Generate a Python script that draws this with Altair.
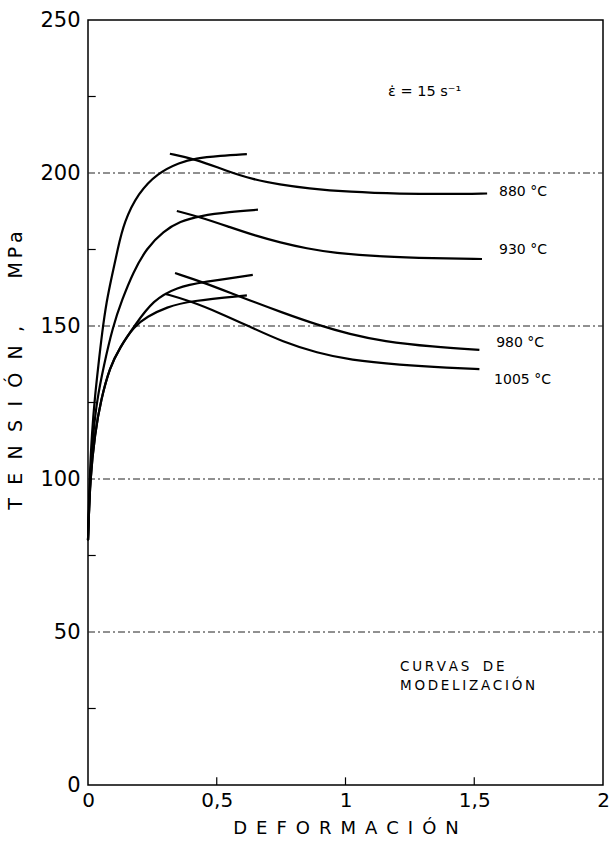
import altair as alt
import pandas as pd

# ---- data ----
r880_x = [0, 0.006, 0.015, 0.027, 0.040, 0.055, 0.072, 0.092, 0.115, 0.140, 0.195, 0.270, 0.357, 0.416, 0.513, 0.617]
r880_y = [80, 100, 115, 127, 137, 148, 158, 166, 175, 184, 193.5, 200, 203.5, 204.8, 205.6, 206.2]
s880_x = [0.318, 0.416, 0.540, 0.640, 0.746, 0.850, 1.017, 1.210, 1.406, 1.550]
s880_y = [206.3, 204.6, 200.6, 197.9, 196.2, 195.0, 193.8, 193.2, 193.1, 193.3]

r930_x = [0, 0.008, 0.020, 0.035, 0.060, 0.097, 0.132, 0.175, 0.228, 0.293, 0.357, 0.435, 0.551, 0.660]
r930_y = [80, 100, 115, 125.8, 136.6, 150, 158.5, 167.5, 175.5, 181, 184.2, 186, 187.3, 188]
s930_x = [0.345, 0.435, 0.551, 0.650, 0.746, 0.850, 0.953, 1.146, 1.340, 1.530]
s930_y = [187.6, 185.6, 182.3, 179.5, 177.3, 175.3, 173.9, 172.6, 172.1, 171.9]

r980_x = [0, 0.008, 0.027, 0.050, 0.085, 0.124, 0.180, 0.253, 0.345, 0.447, 0.640]
r980_y = [80, 100, 115, 125.8, 136.6, 143, 150, 158.5, 162.7, 164.4, 166.7]
s980_x = [0.338, 0.447, 0.590, 0.757, 0.890, 1.017, 1.146, 1.340, 1.520]
s980_y = [167.3, 164.3, 159.6, 154.3, 150.4, 147.3, 145.0, 143.2, 142.2]

r1005_x = [0, 0.008, 0.027, 0.050, 0.085, 0.124, 0.180, 0.228, 0.306, 0.396, 0.617]
r1005_y = [80, 100, 115, 125.8, 136.6, 143, 150, 153, 156.2, 158.2, 160.0]
s1005_x = [0.300, 0.396, 0.513, 0.630, 0.757, 0.890, 1.017, 1.210, 1.406, 1.520]
s1005_y = [160.5, 158.2, 154.2, 149.7, 144.8, 141.2, 138.9, 137.3, 136.3, 135.9]

temp_labels = ["880 °C", "930 °C", "980 °C", "1005 °C"]
temp_label_x = [1.596, 1.596, 1.585, 1.577]
temp_label_y = [193.8, 174.8, 144.4, 132.4]

grid_values = [50, 100, 150, 200]
y_minor_ticks = [25, 75, 125, 175, 225]
x_ticks = [0.5, 1.0, 1.5]

T = "\u2009"  # thin space used as letter spacing
note_text = ["ε̇ = 15 s⁻¹", T.join("CURVAS") + "\u2002\u2002" + T.join("DE"), T.join("MODELIZACIÓN")]
note_x = [1.165, 1.212, 1.212]
note_y = [226.5, 38.6, 32.4]
note_size = [14.5, 13.5, 13.5]

SP = "\u2002\u2009"
y_title = SP.join("TENSIÓN,") + "\u2003\u2003\u2002" + "\u2009".join("MPa")
x_title = "\u2002".join("DEFORMACIÓN")

# ---- tables ----
curves = {
    "r880": (r880_x, r880_y), "s880": (s880_x, s880_y),
    "r930": (r930_x, r930_y), "s930": (s930_x, s930_y),
    "r980": (r980_x, r980_y), "s980": (s980_x, s980_y),
    "r1005": (r1005_x, r1005_y), "s1005": (s1005_x, s1005_y),
}
rows = []
for name, (xs_, ys_) in curves.items():
    for i, (xv, yv) in enumerate(zip(xs_, ys_)):
        rows.append({"curve": name, "order": i, "x": xv, "y": yv})
df = pd.DataFrame(rows)

grid_df = pd.DataFrame({"y": grid_values, "x0": [0] * len(grid_values), "x1": [2] * len(grid_values)})
ytick_df = pd.DataFrame({"y": y_minor_ticks, "x0": [0] * len(y_minor_ticks), "x1": [0.03] * len(y_minor_ticks)})
xtick_df = pd.DataFrame({"x": x_ticks, "y0": [0] * len(x_ticks), "y1": [2.5] * len(x_ticks)})
lab_df = pd.DataFrame({"t": temp_labels, "x": temp_label_x, "y": temp_label_y})
note_df = pd.DataFrame({"t": note_text, "x": note_x, "y": note_y, "s": note_size})

FONT = "DejaVu Sans"

xs = alt.Scale(domain=[0, 2], nice=False)
ys = alt.Scale(domain=[0, 250], nice=False)

x_axis = alt.Axis(
    values=[0, 0.5, 1, 1.5, 2], labelExpr="replace(format(datum.value, '~g'), '.', ',')",
    domain=False, ticks=False, grid=False, labelFont=FONT, labelFontSize=20, labelColor="black",
    labelPadding=5, labelFlush=False, title=x_title, titleFont=FONT,
    titleFontSize=18, titleFontWeight="normal", titleColor="black", titleY=34,
)
y_axis = alt.Axis(
    values=[0, 50, 100, 150, 200, 250], domain=False, ticks=False, grid=False,
    labelFont=FONT, labelFontSize=21, labelColor="black", labelPadding=8,
    title=y_title, titleFont=FONT, titleFontSize=19,
    titleFontWeight="normal", titleColor="black", titleX=-63, titleY=350,
)

lines = alt.Chart(df).mark_line(color="black", strokeWidth=2.2, interpolate="basis").encode(
    x=alt.X("x:Q", scale=xs, axis=x_axis),
    y=alt.Y("y:Q", scale=ys, axis=y_axis),
    detail="curve:N",
    order="order:Q",
)

grid = alt.Chart(grid_df).mark_rule(color="#222", strokeWidth=1, strokeDash=[7, 3, 2, 3]).encode(
    x=alt.X("x0:Q", scale=xs), x2="x1:Q", y=alt.Y("y:Q", scale=ys)
)
yticks = alt.Chart(ytick_df).mark_rule(color="black", strokeWidth=1.2).encode(
    x=alt.X("x0:Q", scale=xs), x2="x1:Q", y=alt.Y("y:Q", scale=ys)
)
xticks = alt.Chart(xtick_df).mark_rule(color="black", strokeWidth=1.2).encode(
    x=alt.X("x:Q", scale=xs), y=alt.Y("y0:Q", scale=ys), y2="y1:Q"
)
labels = alt.Chart(lab_df).mark_text(align="left", baseline="middle", font=FONT, fontSize=14, color="black").encode(
    x=alt.X("x:Q", scale=xs), y=alt.Y("y:Q", scale=ys), text="t:N"
)
notes = alt.Chart(note_df).mark_text(align="left", baseline="middle", font=FONT, color="black").encode(
    x=alt.X("x:Q", scale=xs), y=alt.Y("y:Q", scale=ys), text="t:N",
    size=alt.Size("s:Q", scale=None, legend=None),
)

chart = alt.layer(grid, yticks, xticks, lines, labels, notes).properties(
    width=515, height=765,
    autosize=alt.AutoSizeParams(type="none"),
    padding={"left": 88, "top": 20, "right": 10, "bottom": 65},
    background="white",
).configure_view(stroke="black", strokeWidth=1.5)

chart.save("out.html", embed_options={"renderer": "svg", "actions": False})
